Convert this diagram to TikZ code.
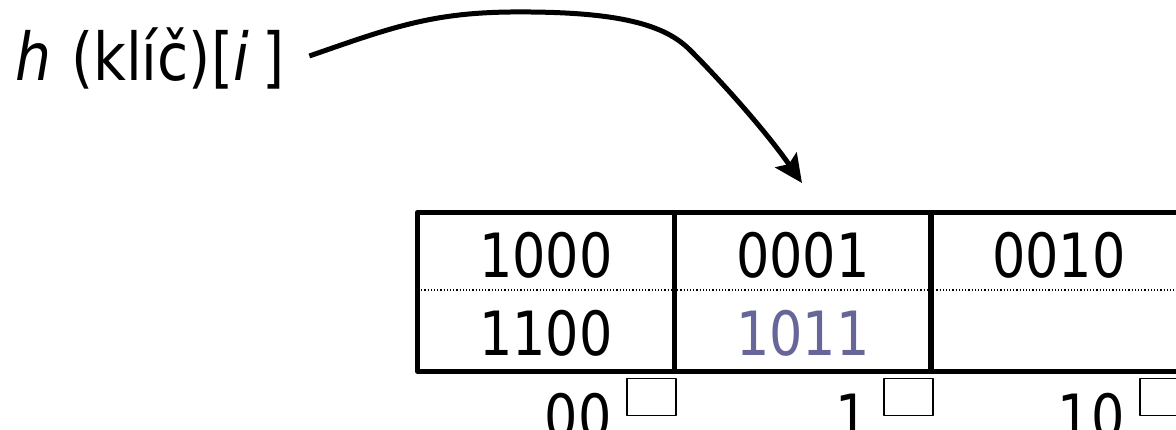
\documentclass[tikz,border=0pt]{standalone}
\usepackage{fontspec}
\setmainfont[FakeStretch=0.86]{DejaVu Sans}
\usetikzlibrary{arrows.meta,calc}
\definecolor{entryblue}{RGB}{102,102,153}
\begin{document}
\begin{tikzpicture}[x=1pt,y=-1pt,line join=round,font=\fontsize{61}{70}\selectfont,
	cellbox/.style={draw,line width=4.6pt,minimum width=257pt,minimum height=159pt,inner sep=0pt,anchor=north west},
	slot/.style={draw,line width=1.8pt,minimum width=49pt,minimum height=37pt,inner sep=0pt,anchor=north east},
	entry/.style={inner sep=0pt,anchor=base},
	pointer/.style={line width=5pt,-{Stealth[length=28pt,width=26pt,inset=5pt]}}]
	\useasboundingbox (0,0) rectangle (1176,429);
	\clip (0,0) rectangle (1176,429);
	\def\rowa{67} \def\rowb{145}
	% key label and pointer
	\node[inner sep=0pt,anchor=base west,font=\fontsize{66}{74}\selectfont] (key) at (15,80)
		{\itshape h\hspace{20pt}\upshape(klíč)[\itshape i\hspace{14pt}\upshape]};
	\coordinate (tip) at (802,183);
	\draw[pointer] ([shift={(24,-24)}]key.base east) .. controls (390,28) and (430,13) .. (510,12)
		.. controls (620,11) and (665,25) .. (690,50) .. controls (720,80) and (765,130) .. (tip);
	% buckets
	\draw[line width=1.2pt,dotted] (418,290) -- (1176,290);
	\foreach \i/\xl/\lab in {0/415/00,1/672/1,2/928/10}{
		\node[cellbox] (c\i) at (\xl,210) {};
		\node[slot] (s\i) at ([yshift=-4pt]c\i.south east) {};
		\node[entry,anchor=base east,xshift=-14pt] at (s\i.west |- 0,438) {\lab};
	}
	\node[entry] at ($(c0.north)+(0,\rowa)$) {1000};
	\node[entry] at ($(c0.north)+(0,\rowb)$) {1100};
	\node[entry] at ($(c1.north)+(0,\rowa)$) {0001};
	\node[entry,text=entryblue] at ($(c1.north)+(0,\rowb)$) {1011};
	\node[entry] at ($(c2.north)+(0,\rowa)$) {0010};
\end{tikzpicture}
\end{document}
